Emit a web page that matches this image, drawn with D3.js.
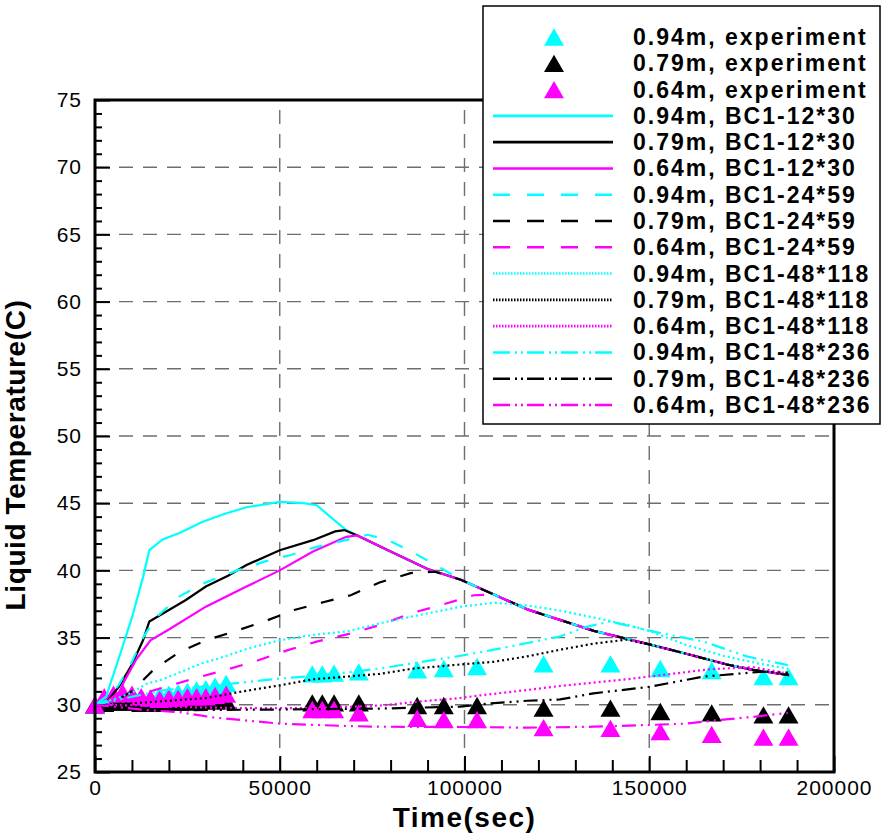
<!DOCTYPE html>
<html>
<head>
<meta charset="utf-8">
<script src="https://cdn.jsdelivr.net/npm/d3@7"></script>
<style>
  body { margin: 0; background: #fff; }
  svg { display: block; font-family: "Liberation Sans", Arial, sans-serif; }
</style>
</head>
<body>
<svg id="chart" width="887" height="840"></svg>
<script>
// tick values
var xMajor = [0, 50000, 100000, 150000, 200000];
var yMajor = [25, 30, 35, 40, 45, 50, 55, 60, 65, 70, 75];

// experiment points (time, temperature)
var expTime = [0, 2500, 5000, 7500, 10000, 12500, 15000, 17500, 20000, 22500, 25000, 27500, 30000, 32500, 35500,
  58800, 61500, 64700, 71400, 87200, 94400, 103400, 121400, 139500, 153000, 166900, 180900, 187700];
var exp094 = [30.0, 30.3, 30.5, 30.6, 30.5, 30.4, 30.5, 30.7, 30.8, 30.9, 31.0, 31.1, 31.2, 31.4, 31.6,
  32.3, 32.3, 32.35, 32.45, 32.6, 32.7, 32.85, 33.05, 33.05, 32.7, 32.55, 32.1, 32.1];
var exp079 = [30.0, 30.1, 30.2, 30.2, 30.2, 30.1, 30.1, 30.1, 30.2, 30.2, 30.2, 30.3, 30.3, 30.3, 30.3,
  30.15, 30.15, 30.15, 30.15, 29.95, 29.95, 29.95, 29.75, 29.75, 29.5, 29.4, 29.25, 29.25];
var exp064 = [30.0, 30.6, 30.8, 30.9, 30.8, 30.6, 30.5, 30.4, 30.5, 30.5, 30.6, 30.6, 30.6, 30.7, 30.8,
  29.65, 29.65, 29.65, 29.4, 29.0, 28.9, 28.9, 28.3, 28.25, 28.0, 27.8, 27.6, 27.6];

// the common cooling branch most runs end on
var descent = [[80000, 41.4], [90000, 40.1], [99000, 39.3], [108000, 38.2], [117000, 37.1], [126000, 36.3],
  [135000, 35.5], [144000, 34.9], [150000, 34.5], [160000, 33.8], [171000, 33.0], [178000, 32.6], [188000, 32.2]];
function descentFrom(t) {
  return descent.filter(function(p) { return p[0] >= t; });
}

// BC1-12*30
var c12 = [[0, 30], [3000, 30.6], [6500, 33.5], [10000, 36.5], [13000, 39.5], [14700, 41.5], [18300, 42.3],
  [23000, 42.8], [29000, 43.6], [35000, 44.2], [41000, 44.7], [50000, 45.1], [56500, 45.0], [60000, 44.85],
  [64500, 43.8], [68000, 43.0], [71000, 42.6]].concat(descentFrom(80000));
var k12 = [[0, 30], [3000, 30.15], [6500, 31.35], [10000, 33.0], [13000, 34.8], [14700, 36.2], [20000, 37.05],
  [24600, 37.8], [30000, 38.8], [36000, 39.6], [41000, 40.4], [50000, 41.5], [59000, 42.25], [65000, 42.9],
  [67500, 43.0], [71000, 42.6]].concat(descentFrom(80000));
var m12 = [[0, 30], [3000, 30.2], [6500, 30.9], [8000, 31.8], [11000, 33.3], [15000, 34.8], [20000, 35.6],
  [30000, 37.3], [41000, 38.8], [50000, 40.0], [59000, 41.4], [68000, 42.5], [71000, 42.6]].concat(descentFrom(80000));

// BC1-24*59
var c24 = [[0, 30], [3000, 30.3], [6500, 31.5], [10000, 33.2], [13000, 35.0], [16500, 36.5], [22800, 38.05],
  [29000, 39.0], [38500, 40.0], [45800, 40.65], [53000, 41.15], [60000, 41.75], [67000, 42.2], [73700, 42.65],
  [79000, 42.3], [86300, 41.3], [93500, 40.2]].concat(descentFrom(99000));
var k24 = [[0, 30], [5000, 30.2], [10000, 31.0], [16000, 32.65], [23000, 33.95], [30000, 34.8], [37600, 35.45],
  [45800, 36.2], [53900, 37.05], [62000, 37.65], [69200, 38.15], [77000, 39.1], [85400, 39.8],
  [92000, 39.9]].concat(descentFrom(99000));
var m24 = [[0, 30], [5000, 30.2], [10000, 30.6], [15000, 31.0], [20000, 31.4], [27300, 32.0], [35400, 32.6],
  [43000, 33.2], [52000, 34.05], [60000, 34.7], [69000, 35.3], [77300, 35.95], [85400, 36.8], [94000, 37.45],
  [102500, 38.15]].concat(descentFrom(108000));

// BC1-48*118
var c48 = [[0, 30], [5000, 30.4], [10000, 30.9], [14200, 31.6], [17400, 31.8], [22800, 32.4], [29000, 33.1],
  [33600, 33.45], [41500, 34.2], [50000, 34.8], [59000, 35.2], [68000, 35.45], [77000, 36.05], [81000, 36.3],
  [90000, 36.8], [99000, 37.3], [108000, 37.6], [117000, 37.4], [126000, 37.0], [135000, 36.5], [144000, 35.95],
  [150000, 35.5], [160000, 34.45], [170000, 33.65], [180000, 33.05], [187500, 32.7]];
var k48 = [[0, 30], [10000, 30.1], [20000, 30.3], [30000, 30.5], [40000, 31.0], [50000, 31.45], [59000, 31.9],
  [68300, 32.1], [77000, 32.3], [86300, 32.7], [98900, 33.0], [107900, 33.2], [116900, 33.6], [125900, 34.1],
  [134900, 34.55], [143900, 34.85], [150000, 34.5], [160000, 33.8], [171000, 33.0], [178000, 32.6], [188000, 32.25]];
var m48 = [[0, 30], [10000, 29.95], [20000, 29.85], [40000, 29.75], [60000, 29.75], [77300, 29.95], [89900, 30.3],
  [97100, 30.45], [104300, 30.7], [116900, 31.1], [125900, 31.4], [143900, 31.9], [153000, 32.2], [166500, 32.65],
  [178000, 32.8], [186300, 32.4]];

// BC1-48*236
var c236 = [[0, 30], [5000, 30.3], [10000, 30.6], [19000, 31.1], [29000, 31.35], [41500, 31.7], [50000, 31.95],
  [59000, 32.15], [68000, 32.4], [77000, 32.7], [85000, 33.05], [99000, 33.65], [108000, 34.1], [117000, 34.6],
  [126000, 35.1], [133000, 35.8], [139400, 36.2], [150300, 35.5], [164700, 34.7], [176400, 33.6], [187500, 32.95]];
var k236 = [[0, 30], [5000, 29.9], [15000, 29.7], [23000, 29.6], [50000, 29.65], [77000, 29.72], [98900, 29.86],
  [107000, 30.1], [116900, 30.3], [125900, 30.4], [134900, 30.85], [150300, 31.35], [164700, 32.1],
  [180000, 32.45], [187500, 32.4]];
var m236 = [[0, 30], [5000, 29.86], [14000, 29.6], [23000, 29.45], [32000, 29.06], [50000, 28.6], [68000, 28.42],
  [77000, 28.37], [99000, 28.35], [117000, 28.3], [135000, 28.37], [150000, 28.5], [160000, 28.6],
  [169000, 28.87], [178000, 29.1], [187500, 29.4]];

var CYAN = "#00ffff", BLACK = "#000000", MAGENTA = "#ff00ff";

// line patterns: [in plot, in legend]
var patterns = {
  solid: [null, null],
  dash: ["13,15", "17,17"],
  dot: ["2,3", "1.5,1.5"],
  dashdotdot: ["14,5,2,5,2,5", "17,5,2,4,2,4"]
};

var expSeries = [
  { label: "0.94m, experiment", color: CYAN, values: exp094 },
  { label: "0.79m, experiment", color: BLACK, values: exp079 },
  { label: "0.64m, experiment", color: MAGENTA, values: exp064 }
];

var lineSeries = [
  { label: "0.94m, BC1-12*30", color: CYAN, pat: "solid", data: c12 },
  { label: "0.79m, BC1-12*30", color: BLACK, pat: "solid", data: k12 },
  { label: "0.64m, BC1-12*30", color: MAGENTA, pat: "solid", data: m12 },
  { label: "0.94m, BC1-24*59", color: CYAN, pat: "dash", data: c24 },
  { label: "0.79m, BC1-24*59", color: BLACK, pat: "dash", data: k24 },
  { label: "0.64m, BC1-24*59", color: MAGENTA, pat: "dash", data: m24 },
  { label: "0.94m, BC1-48*118", color: CYAN, pat: "dot", data: c48 },
  { label: "0.79m, BC1-48*118", color: BLACK, pat: "dot", data: k48 },
  { label: "0.64m, BC1-48*118", color: MAGENTA, pat: "dot", data: m48 },
  { label: "0.94m, BC1-48*236", color: CYAN, pat: "dashdotdot", data: c236 },
  { label: "0.79m, BC1-48*236", color: BLACK, pat: "dashdotdot", data: k236 },
  { label: "0.64m, BC1-48*236", color: MAGENTA, pat: "dashdotdot", data: m236 }
];

var svg = d3.select("#chart");

var x = d3.scaleLinear().domain([0, 200000]).range([95, 834]);
var y = d3.scaleLinear().domain([25, 75]).range([772, 100]);

// triangle marker, centred on its bounding box
var tri = {
  draw: function(ctx, size) {
    var w = Math.sqrt(size * 4 / Math.sqrt(3)), h = w * Math.sqrt(3) / 2;
    ctx.moveTo(0, -h / 2);
    ctx.lineTo(w / 2, h / 2);
    ctx.lineTo(-w / 2, h / 2);
    ctx.closePath();
  }
};
var triPath = d3.symbol().type(tri).size(173)();

// grid
var grid = svg.append("g").attr("stroke", "#6e6e6e").attr("stroke-width", 1.4).attr("stroke-dasharray", "14,10");
grid.selectAll(".gx")
  .data(xMajor.slice(1, -1))
  .enter().append("line")
  .attr("x1", d => x(d)).attr("x2", d => x(d))
  .attr("y1", y(25)).attr("y2", y(75));
grid.selectAll(".gy")
  .data(yMajor.slice(1, -1))
  .enter().append("line")
  .attr("x1", x(0)).attr("x2", x(200000))
  .attr("y1", d => y(d)).attr("y2", d => y(d));

// axes, ticks pointing inwards
var xAxis = svg.append("g").attr("transform", "translate(0," + y(25) + ")")
  .call(d3.axisBottom(x).tickValues(xMajor).tickSize(-16).tickPadding(8).tickFormat(d3.format("d")));
svg.append("g").attr("transform", "translate(0," + y(25) + ")")
  .call(d3.axisBottom(x).tickValues(d3.range(10000, 200000, 10000).filter(d => d % 50000)).tickSize(-12).tickFormat(""));
var yAxis = svg.append("g").attr("transform", "translate(" + x(0) + ",0)")
  .call(d3.axisLeft(y).tickValues(yMajor).tickSize(-15).tickPadding(13));
svg.append("g").attr("transform", "translate(" + x(0) + ",0)")
  .call(d3.axisLeft(y).tickValues(d3.range(26, 75, 1).filter(d => d % 5)).tickSize(-7).tickFormat(""));

svg.selectAll(".domain").remove();
svg.selectAll(".tick line").attr("stroke", "#000").attr("stroke-width", 2);
svg.selectAll(".tick text")
  .attr("fill", "#000")
  .attr("font-size", 21)
  .attr("letter-spacing", "1px")
  .attr("font-family", "Liberation Sans, Arial, sans-serif");

// experiment triangles
expSeries.forEach(function(s) {
  svg.append("g").selectAll("path")
    .data(s.values)
    .enter().append("path")
    .attr("d", triPath)
    .attr("fill", s.color)
    .attr("transform", (d, i) => "translate(" + x(expTime[i]) + "," + y(d) + ")");
});

// simulated curves
var line = d3.line().x(d => x(d[0])).y(d => y(d[1]));
lineSeries.forEach(function(s) {
  svg.append("path")
    .datum(s.data)
    .attr("d", line)
    .attr("fill", "none")
    .attr("stroke", s.color)
    .attr("stroke-width", 2.2)
    .attr("stroke-dasharray", patterns[s.pat][0]);
});

// frame
svg.append("rect")
  .attr("x", x(0)).attr("y", y(75))
  .attr("width", x(200000) - x(0)).attr("height", y(25) - y(75))
  .attr("fill", "none").attr("stroke", "#000").attr("stroke-width", 3);

// axis titles
svg.append("text")
  .attr("x", (x(0) + x(200000)) / 2).attr("y", 827)
  .attr("text-anchor", "middle")
  .attr("font-size", 28).attr("font-weight", "bold").attr("letter-spacing", "1.5px")
  .text("Time(sec)");
svg.append("text")
  .attr("transform", "translate(25,455) rotate(-90)")
  .attr("text-anchor", "middle")
  .attr("font-size", 28).attr("font-weight", "bold").attr("letter-spacing", "0.6px")
  .text("Liquid Temperature(C)");

// legend
var legend = svg.append("g");
legend.append("rect")
  .attr("x", 483).attr("y", 6).attr("width", 397).attr("height", 418)
  .attr("fill", "#fff").attr("stroke", "#000").attr("stroke-width", 1.5);

var rowY = d3.scaleLinear().domain([0, 14]).range([37, 405]);
var entries = expSeries.map(s => ({ label: s.label, color: s.color, marker: true }))
  .concat(lineSeries.map(s => ({ label: s.label, color: s.color, pat: s.pat })));

var rows = legend.selectAll(".row")
  .data(entries)
  .enter().append("g")
  .attr("transform", (d, i) => "translate(0," + rowY(i) + ")");

rows.filter(d => d.marker).append("path")
  .attr("d", triPath)
  .attr("fill", d => d.color)
  .attr("transform", "translate(554,0)");

rows.filter(d => !d.marker).append("line")
  .attr("x1", 493).attr("x2", 613)
  .attr("stroke", d => d.color)
  .attr("stroke-width", 2.6)
  .attr("stroke-dasharray", d => patterns[d.pat][1]);

rows.append("text")
  .attr("x", 633).attr("y", 8)
  .attr("font-size", 23).attr("font-weight", "bold").attr("letter-spacing", "2px")
  .text(d => d.label);
</script>
</body>
</html>
